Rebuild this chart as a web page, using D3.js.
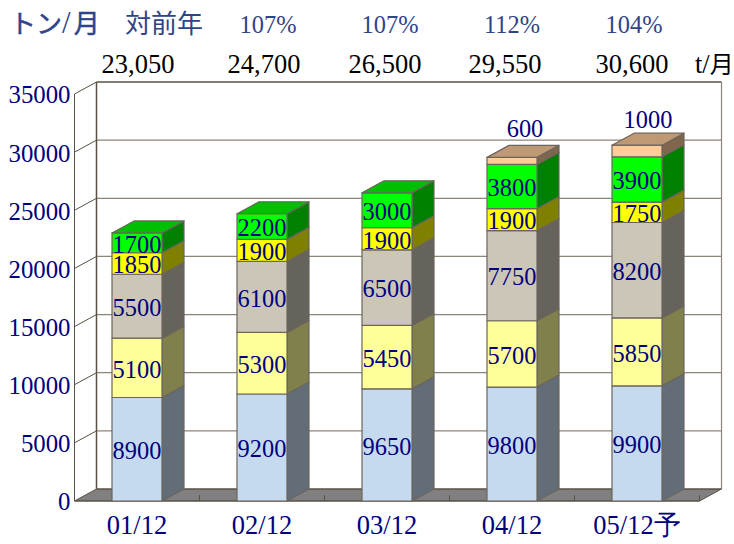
<!DOCTYPE html>
<html>
<head>
<meta charset="utf-8">
<script src="https://cdn.jsdelivr.net/npm/d3@7"></script>
<style>
    html, body { margin: 0; padding: 0; background: #fff; }
    svg { display: block; }
    text { font-family: "Liberation Serif", serif; }
    .jp { font-family: "Noto Sans CJK JP", sans-serif; }
</style>
</head>
<body>
<div id="chart"></div>
<script>
const categories = ["01/12", "02/12", "03/12", "04/12", "05/12予"];
const ratios = ["107%", "107%", "112%", "104%"];
const totals = ["23,050", "24,700", "26,500", "29,550", "30,600"];
const seriesKeys = ["a", "b", "c", "d", "e", "f"];
const seriesA = [8900, 9200, 9650, 9800, 9900];
const seriesB = [5100, 5300, 5450, 5700, 5850];
const seriesC = [5500, 6100, 6500, 7750, 8200];
const seriesD = [1850, 1900, 1900, 1900, 1750];
const seriesE = [1700, 2200, 3000, 3800, 3900];
const seriesF = [0, 0, 0, 600, 1000];
const yTicks = [0, 5000, 10000, 15000, 20000, 25000, 30000, 35000];
const seriesColors = ["#c6daef", "#ffff99", "#ccc6b8", "#ffff00", "#00ff00", "#ffcc99"];

const width = 734, height = 544;
const depthX = 22, depthY = 12;
const navy = "#000080", edge = "#6b655c", wallLine = "#5a5044", header = "#2f4488";

const svg = d3.select("#chart").append("svg")
    .attr("width", width)
    .attr("height", height);

const x = d3.scaleBand().domain(categories).range([74.5, 699.5]).paddingInner(0.6).paddingOuter(0.3);
const y = d3.scaleLinear().domain([0, 35000]).range([501, 94]);

// table for d3.stack
const table = categories.map((c, i) => ({
    cat: c, a: seriesA[i], b: seriesB[i], c: seriesC[i],
    d: seriesD[i], e: seriesE[i], f: seriesF[i]
}));
const stacked = d3.stack().keys(seriesKeys)(table);

const x0 = x.range()[0], x1 = x.range()[1];
const poly = pts => pts.map(p => p.join(",")).join(" ");

// walls
svg.append("polygon")
    .attr("points", poly([[x0, y(0)], [x0 + depthX, y(0) - depthY], [x1 + depthX, y(0) - depthY], [x1, y(0)]]))
    .attr("fill", "#808080").attr("stroke", "none");

yTicks.slice(1).forEach(t => {
    svg.append("line")
        .attr("x1", x0 + depthX).attr("x2", x1 + depthX)
        .attr("y1", y(t) - depthY).attr("y2", y(t) - depthY)
        .attr("stroke", t === 35000 ? wallLine : "#8c857a")
        .attr("stroke-width", t === 35000 ? 1.5 : 1.2);
});
yTicks.forEach(t => {
    svg.append("line")
        .attr("x1", x0).attr("y1", y(t))
        .attr("x2", x0 + depthX).attr("y2", y(t) - depthY)
        .attr("stroke", wallLine).attr("stroke-width", 1);
});
svg.append("line").attr("x1", x0).attr("x2", x0).attr("y1", y(0)).attr("y2", y(35000))
    .attr("stroke", wallLine).attr("stroke-width", 1);
svg.append("line").attr("x1", x0 + depthX).attr("x2", x0 + depthX).attr("y1", y(0) - depthY).attr("y2", y(35000) - depthY)
    .attr("stroke", wallLine).attr("stroke-width", 1.5);
svg.append("line").attr("x1", x1 + depthX).attr("x2", x1 + depthX).attr("y1", y(0) - depthY).attr("y2", y(35000) - depthY)
    .attr("stroke", "#8c857a").attr("stroke-width", 1.2);
svg.append("line").attr("x1", x0 + depthX).attr("x2", x1 + depthX).attr("y1", y(0) - depthY).attr("y2", y(0) - depthY)
    .attr("stroke", wallLine).attr("stroke-width", 1.5);
svg.append("line").attr("x1", x1).attr("y1", y(0)).attr("x2", x1 + depthX).attr("y2", y(0) - depthY)
    .attr("stroke", wallLine).attr("stroke-width", 1);

// floor ticks between categories
x.domain().forEach((c, i) => {
    const tx = x0 + x.step() * (i + 1);
    svg.append("line").attr("x1", tx).attr("x2", tx).attr("y1", y(0)).attr("y2", y(0) - 6)
        .attr("stroke", wallLine).attr("stroke-width", 1);
});
svg.append("line").attr("x1", x0).attr("x2", x1).attr("y1", y(0)).attr("y2", y(0))
    .attr("stroke", wallLine).attr("stroke-width", 1.5);

// bars, bottom to top
categories.forEach((c, ci) => {
    const bx = x(c), bw = x.bandwidth();
    stacked.forEach((layer, li) => {
        const v0 = layer[ci][0], v1 = layer[ci][1];
        if (v1 === v0) return;
        const color = d3.rgb(seriesColors[li]);
        const side = d3.rgb(color.r * 0.5, color.g * 0.5, color.b * 0.5);
        const top = d3.rgb(color.r * 0.75, color.g * 0.75, color.b * 0.75);
        const g = svg.append("g").attr("stroke", edge).attr("stroke-width", 1.2).attr("stroke-linejoin", "round");
        g.append("polygon")
            .attr("points", poly([[bx + bw, y(v0)], [bx + bw + depthX, y(v0) - depthY], [bx + bw + depthX, y(v1) - depthY], [bx + bw, y(v1)]]))
            .attr("fill", side);
        g.append("rect")
            .attr("x", bx).attr("y", y(v1))
            .attr("width", bw).attr("height", y(v0) - y(v1))
            .attr("fill", color);
        // only the highest piece of a bar shows its lid
        if (stacked.slice(li + 1).every(l => l[ci][1] === l[ci][0])) {
            g.append("polygon")
                .attr("points", poly([[bx, y(v1)], [bx + depthX, y(v1) - depthY], [bx + bw + depthX, y(v1) - depthY], [bx + bw, y(v1)]]))
                .attr("fill", top);
        }
    });
});

// value labels
const valueLabel = (tx, ty, txt) => svg.append("text")
    .attr("x", tx).attr("y", ty).attr("dy", "0.4em")
    .attr("text-anchor", "middle").attr("font-size", 24.4).attr("fill", navy)
    .text(txt);

// the two small top pieces have their labels hand placed above the lid
const topLabelShift = { "04/12": [13, 30], "05/12予": [11, 27] };

categories.forEach((c, ci) => {
    const cx = x(c) + x.bandwidth() / 2;
    stacked.forEach((layer, li) => {
        const v0 = layer[ci][0], v1 = layer[ci][1];
        if (v1 === v0) return;
        if (li === 5) {
            valueLabel(cx + topLabelShift[c][0], y(v1) - topLabelShift[c][1], v1 - v0);
        } else {
            valueLabel(cx, (y(v0) + y(v1)) / 2, v1 - v0);
        }
    });
});

// axes
const yAxis = svg.append("g")
    .attr("transform", "translate(" + x0 + ",0)")
    .call(d3.axisLeft(y).tickValues(yTicks).tickFormat(d3.format("d")).tickSize(0).tickPadding(4));
yAxis.select(".domain").remove();
yAxis.selectAll("text").attr("font-size", 24.8).attr("fill", navy).attr("dy", "0.36em")
    .attr("font-family", "Liberation Serif, serif");

const xAxis = svg.append("g")
    .attr("transform", "translate(0," + y(0) + ")")
    .call(d3.axisBottom(x).tickSize(0).tickPadding(14));
xAxis.select(".domain").remove();
xAxis.selectAll("text").attr("font-size", 26.5).attr("fill", navy)
    .attr("font-family", "Liberation Serif, \"Noto Sans CJK JP\", serif");

// header rows
const unitTitle = svg.append("text").attr("x", 10).attr("y", 33).attr("fill", header).attr("font-size", 26);
unitTitle.append("tspan").attr("class", "jp").attr("stroke", header).attr("stroke-width", 0.5).text("トン");
unitTitle.append("tspan").attr("font-size", 31).text("/");
unitTitle.append("tspan").attr("class", "jp").attr("stroke", header).attr("stroke-width", 0.5).attr("dx", 3).text("月");

svg.append("text").attr("x", 125).attr("y", 33).attr("class", "jp")
    .attr("font-size", 26).attr("fill", header).text("対前年");

const ratioCenters = [268, 390, 512, 634];
ratios.forEach((r, i) => {
    svg.append("text").attr("x", ratioCenters[i]).attr("y", 33)
        .attr("text-anchor", "middle").attr("font-size", 24.4).attr("fill", header).text(r);
});

const totalCenters = [138, 264, 385, 505, 632];
totals.forEach((t, i) => {
    svg.append("text").attr("x", totalCenters[i]).attr("y", 73)
        .attr("text-anchor", "middle").attr("font-size", 26.5).attr("fill", "#000").text(t);
});
svg.append("text").attr("x", 695).attr("y", 73).attr("font-size", 26.5).attr("fill", "#000")
    .text("t/")
    .append("tspan").attr("class", "jp").attr("font-size", 24).text("月");
</script>
</body>
</html>
